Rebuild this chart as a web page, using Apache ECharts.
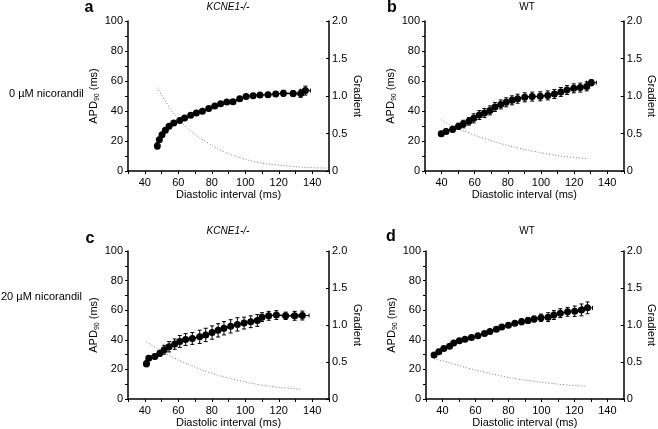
<!DOCTYPE html>
<html>
<head>
<meta charset="utf-8">
<script src="https://cdn.jsdelivr.net/npm/echarts@6/dist/echarts.min.js"></script>
<style>
  html, body { margin: 0; padding: 0; background: #fff; }
  #chart { width: 658px; height: 429px; }
</style>
</head>
<body>
<div id="chart"></div>
<script>
// panel a: KCNE1-/-, 0 uM nicorandil
const aDI = [47.5, 48.7, 50.3, 52.3, 54.5, 57.3, 60.9, 63.8, 67.4, 70.8, 74.4, 78.2, 81.8, 85.3, 89.0, 92.7, 96.7, 100.5, 104.7, 108.8, 113.6, 118.2, 122.8, 128.6, 133.1, 135.9];
const aAPD = [16.7, 20.9, 24.2, 27.1, 29.8, 32.0, 33.6, 35.3, 37.1, 38.7, 39.8, 41.6, 43.3, 44.9, 46.0, 46.2, 48.2, 49.6, 50.2, 50.7, 50.9, 51.3, 51.8, 51.6, 51.6, 53.6];
const aErrY = [2, 1.5, 1, 1, 1, 1, 1, 1, 1, 1, 1, 1, 1, 1, 1, 1, 1, 1, 1, 1, 1.5, 1.5, 2, 2, 2.5, 3];
const aErrX = [0.8, 0.8, 0.8, 0.8, 0.8, 0.8, 0.8, 0.8, 0.8, 0.8, 0.8, 0.8, 0.8, 0.8, 0.8, 0.8, 0.8, 0.8, 0.8, 0.8, 1, 1, 1, 1.5, 1.5, 3];
const aGradDI = [47.5, 53.9, 59.9, 67.8, 77.8, 87.7, 97.6, 107.6, 117.5, 127.5, 139.4, 149.7];
const aGrad = [1.11, 0.876, 0.698, 0.529, 0.373, 0.253, 0.173, 0.116, 0.084, 0.062, 0.044, 0.04];

// panel b: WT, 0 uM nicorandil
const bDI = [39.8, 42.7, 46.7, 50.2, 53.1, 56.5, 59.4, 62.8, 65.9, 69.2, 72.2, 75.7, 79.0, 82.5, 85.9, 90.2, 94.7, 99.6, 104.1, 108.1, 112.0, 115.7, 119.8, 123.7, 127.6, 130.4];
const bAPD = [24.9, 26.4, 27.8, 29.8, 31.3, 33.1, 35.1, 37.3, 38.7, 40.4, 42.7, 44.4, 45.8, 47.1, 48.2, 49.1, 49.6, 49.8, 50.4, 51.3, 52.7, 54.0, 55.1, 55.6, 56.4, 58.9];
const bErrY = [1.5, 1.5, 2, 2, 2.5, 2.5, 3, 3, 3, 3, 3, 3, 3, 3, 3, 3, 3, 3, 3, 3, 3, 3, 3, 3, 3, 2];
const bErrX = [0.8, 0.8, 0.8, 0.8, 0.8, 0.8, 0.8, 0.8, 0.8, 0.8, 0.8, 0.8, 0.8, 0.8, 0.8, 0.8, 0.8, 0.8, 0.8, 0.8, 0.8, 0.8, 1, 1, 1.5, 3];
const bGradDI = [39.8, 46.7, 56.5, 66.3, 76.1, 85.9, 95.7, 105.5, 115.3, 128.6];
const bGrad = [0.684, 0.596, 0.507, 0.431, 0.364, 0.307, 0.262, 0.222, 0.191, 0.164];

// panel c: KCNE1-/-, 20 uM nicorandil
const cDI = [41.0, 42.4, 46.0, 49.0, 51.6, 54.5, 57.9, 60.9, 64.4, 68.4, 72.8, 76.4, 80.2, 83.8, 87.3, 91.3, 95.3, 99.3, 103.3, 107.2, 110.0, 114.0, 118.6, 124.1, 129.5, 134.1];
const cAPD = [23.8, 27.6, 28.7, 30.9, 33.3, 35.3, 37.1, 38.9, 40.2, 40.9, 42.0, 43.3, 44.9, 46.4, 47.8, 49.1, 50.4, 51.3, 52.2, 53.1, 55.3, 56.2, 56.7, 56.2, 56.2, 56.4];
const cErrY = [2, 1.5, 1.5, 2, 3, 3.5, 3.5, 4, 4, 4, 4.5, 4.5, 4.5, 4.5, 4.5, 4.5, 4.5, 4, 4, 4, 3, 3, 3, 2.5, 3, 3];
const cErrX = [1.5, 0.8, 0.8, 0.8, 0.8, 0.8, 0.8, 0.8, 0.8, 0.8, 0.8, 0.8, 0.8, 0.8, 0.8, 0.8, 0.8, 0.8, 0.8, 0.8, 0.8, 1, 1, 1.5, 2, 4];
const cGradDI = [41.0, 48.0, 57.9, 67.8, 77.8, 87.7, 97.6, 107.6, 117.5, 133.0];
const cGrad = [0.773, 0.676, 0.551, 0.453, 0.364, 0.298, 0.244, 0.196, 0.164, 0.133];

// panel d: WT, 20 uM nicorandil
const dDI = [34.9, 37.8, 40.8, 44.3, 46.8, 50.2, 53.7, 57.6, 61.5, 65.5, 68.8, 72.7, 76.0, 80.0, 83.9, 88.0, 91.9, 95.6, 99.8, 104.1, 107.6, 111.5, 115.9, 120.2, 124.3, 128.0];
const dAPD = [29.8, 32.0, 34.2, 35.6, 37.8, 39.3, 40.4, 41.6, 42.7, 44.2, 45.6, 47.1, 48.7, 49.8, 51.1, 52.2, 53.1, 54.0, 54.9, 55.3, 56.7, 58.0, 58.9, 59.3, 60.2, 61.6];
const dErrY = [1.5, 1, 1, 1, 1, 1, 1, 1, 1, 1, 1, 1, 1.5, 1.5, 1.5, 2, 2, 2, 2.5, 3, 3, 3, 3, 3.5, 4, 4];
const dErrX = [1.5, 0.8, 0.8, 0.8, 0.8, 0.8, 0.8, 0.8, 0.8, 0.8, 0.8, 0.8, 0.8, 0.8, 0.8, 0.8, 0.8, 0.8, 0.8, 0.8, 0.8, 1, 1, 1, 1.5, 3];
const dGradDI = [34.9, 46.3, 56.1, 65.9, 75.7, 85.5, 95.3, 105.1, 114.9, 127.6];
const dGrad = [0.542, 0.476, 0.413, 0.36, 0.311, 0.271, 0.24, 0.213, 0.191, 0.173];

const xTicks = [40, 60, 80, 100, 120, 140];
const panelLetters = ["a", "b", "c", "d"];
const panelTitles = ["KCNE1-/-", "WT", "KCNE1-/-", "WT"];
const rowLabels = ["0 µM nicorandil", "20 µM nicorandil"];

const FONT = "Liberation Sans, Arial, sans-serif";
const chart = echarts.init(document.getElementById("chart"));

const panels = [
  { di: aDI, apd: aAPD, ey: aErrY, ex: aErrX, gx: aGradDI, gy: aGrad, left: 128, width: 201, top: 21 },
  { di: bDI, apd: bAPD, ey: bErrY, ex: bErrX, gx: bGradDI, gy: bGrad, left: 425, width: 204, top: 21 },
  { di: cDI, apd: cAPD, ey: cErrY, ex: cErrX, gx: cGradDI, gy: cGrad, left: 128, width: 201, top: 251 },
  { di: dDI, apd: dAPD, ey: dErrY, ex: dErrX, gx: dGradDI, gy: dGrad, left: 426, width: 203, top: 251 }
];

const grid = [], xAxis = [], yAxis = [], series = [];

panels.forEach((p, i) => {
  grid.push({ left: p.left, width: p.width, top: p.top, height: 150 });
  xAxis.push({
    type: "value", gridIndex: i, min: 30, max: 150, interval: 10,
    name: "Diastolic interval (ms)", nameLocation: "middle", nameGap: 18,
    nameTextStyle: { fontFamily: FONT, fontSize: 11, color: "#000" },
    axisLine: { onZero: false, lineStyle: { color: "#000", width: 1.5 } },
    axisTick: { length: 3, lineStyle: { color: "#000" } },
    axisLabel: {
      interval: 0, margin: 6, fontFamily: FONT, fontSize: 11, color: "#000",
      formatter: (v) => (xTicks.includes(v) ? String(v) : "")
    },
    splitLine: { show: false }
  });
  yAxis.push({
    type: "value", gridIndex: i, position: "left", min: 0, max: 100, interval: 20,
    name: "APD{sub|90} (ms)", nameLocation: "middle", nameGap: 24, nameRotate: 90,
    nameTextStyle: {
      fontFamily: FONT, fontSize: 11, color: "#000",
      rich: { sub: { fontFamily: FONT, fontSize: 7, color: "#000", verticalAlign: "bottom", padding: [6, 0, 0, 0] } }
    },
    axisLine: { show: true, lineStyle: { color: "#000", width: 1.5 } },
    axisTick: { length: 3, lineStyle: { color: "#000" } },
    minorTick: { show: true, splitNumber: 2, length: 3, lineStyle: { color: "#000" } },
    axisLabel: { margin: 5, fontFamily: FONT, fontSize: 11, color: "#000" },
    splitLine: { show: false }
  });
  yAxis.push({
    type: "value", gridIndex: i, position: "right", min: 0, max: 2, interval: 0.5,
    name: "Gradient", nameLocation: "middle", nameGap: 19, nameRotate: -90,
    nameTextStyle: { fontFamily: FONT, fontSize: 11, color: "#000" },
    axisLine: { show: true, lineStyle: { color: "#000", width: 1.5 } },
    axisTick: { inside: true, length: 3, lineStyle: { color: "#000" } },
    axisLabel: {
      margin: 3, fontFamily: FONT, fontSize: 11, color: "#000",
      formatter: (v) => (v === 0 ? "0" : v.toFixed(1))
    },
    splitLine: { show: false }
  });

  // gradient (dotted)
  series.push({
    type: "line", xAxisIndex: i, yAxisIndex: i * 2 + 1,
    data: p.gx.map((x, k) => [x, p.gy[k]]),
    smooth: true, showSymbol: false, silent: true,
    lineStyle: { color: "#777", width: 1, type: [1, 2] },
    z: 1
  });
  // error bars
  series.push({
    type: "custom", xAxisIndex: i, yAxisIndex: i * 2,
    data: p.di.map((x, k) => [x, p.apd[k], p.ey[k], p.ex[k]]),
    renderItem: (params, api) => {
      const x = api.value(0), y = api.value(1), ey = api.value(2), ex = api.value(3);
      const top = api.coord([x, y + ey]);
      const bot = api.coord([x, y - ey]);
      const lft = api.coord([x - ex, y]);
      const rgt = api.coord([x + ex, y]);
      const st = { stroke: "#000", lineWidth: 1 };
      const cap = 2;
      return {
        type: "group",
        children: [
          { type: "line", shape: { x1: top[0], y1: top[1], x2: bot[0], y2: bot[1] }, style: st },
          { type: "line", shape: { x1: top[0] - cap, y1: top[1], x2: top[0] + cap, y2: top[1] }, style: st },
          { type: "line", shape: { x1: bot[0] - cap, y1: bot[1], x2: bot[0] + cap, y2: bot[1] }, style: st },
          { type: "line", shape: { x1: lft[0], y1: lft[1], x2: rgt[0], y2: rgt[1] }, style: st },
          { type: "line", shape: { x1: lft[0], y1: lft[1] - cap, x2: lft[0], y2: lft[1] + cap }, style: st },
          { type: "line", shape: { x1: rgt[0], y1: rgt[1] - cap, x2: rgt[0], y2: rgt[1] + cap }, style: st }
        ]
      };
    },
    z: 2
  });
  // APD90 points + line
  series.push({
    type: "line", xAxisIndex: i, yAxisIndex: i * 2,
    data: p.di.map((x, k) => [x, p.apd[k]]),
    symbol: "circle", symbolSize: 7,
    itemStyle: { color: "#000" },
    lineStyle: { color: "#000", width: 1.5 },
    z: 3
  });
});

const graphic = [];
const letterPos = [[89, 8], [392, 8], [90, 239], [391, 237]];
const titlePos = [[228, 7], [527, 7], [228, 231], [527, 231]];
panelLetters.forEach((t, i) => {
  graphic.push({
    type: "text", x: letterPos[i][0], y: letterPos[i][1],
    style: { text: t, font: "bold 16px " + FONT, fill: "#000", align: "center", verticalAlign: "middle" }
  });
  graphic.push({
    type: "text", x: titlePos[i][0], y: titlePos[i][1],
    style: {
      text: panelTitles[i],
      font: (i % 2 === 0 ? "italic " : "") + "10px " + FONT,
      fill: "#000", align: "center", verticalAlign: "middle"
    }
  });
});
graphic.push({
  type: "text", x: 9, y: 94,
  style: { text: rowLabels[0], font: "11px " + FONT, fill: "#000", verticalAlign: "middle" }
});
graphic.push({
  type: "text", x: 1, y: 297,
  style: { text: rowLabels[1], font: "11px " + FONT, fill: "#000", verticalAlign: "middle" }
});

chart.setOption({
  animation: false,
  backgroundColor: "#fff",
  grid, xAxis, yAxis, series, graphic
});
</script>
</body>
</html>
